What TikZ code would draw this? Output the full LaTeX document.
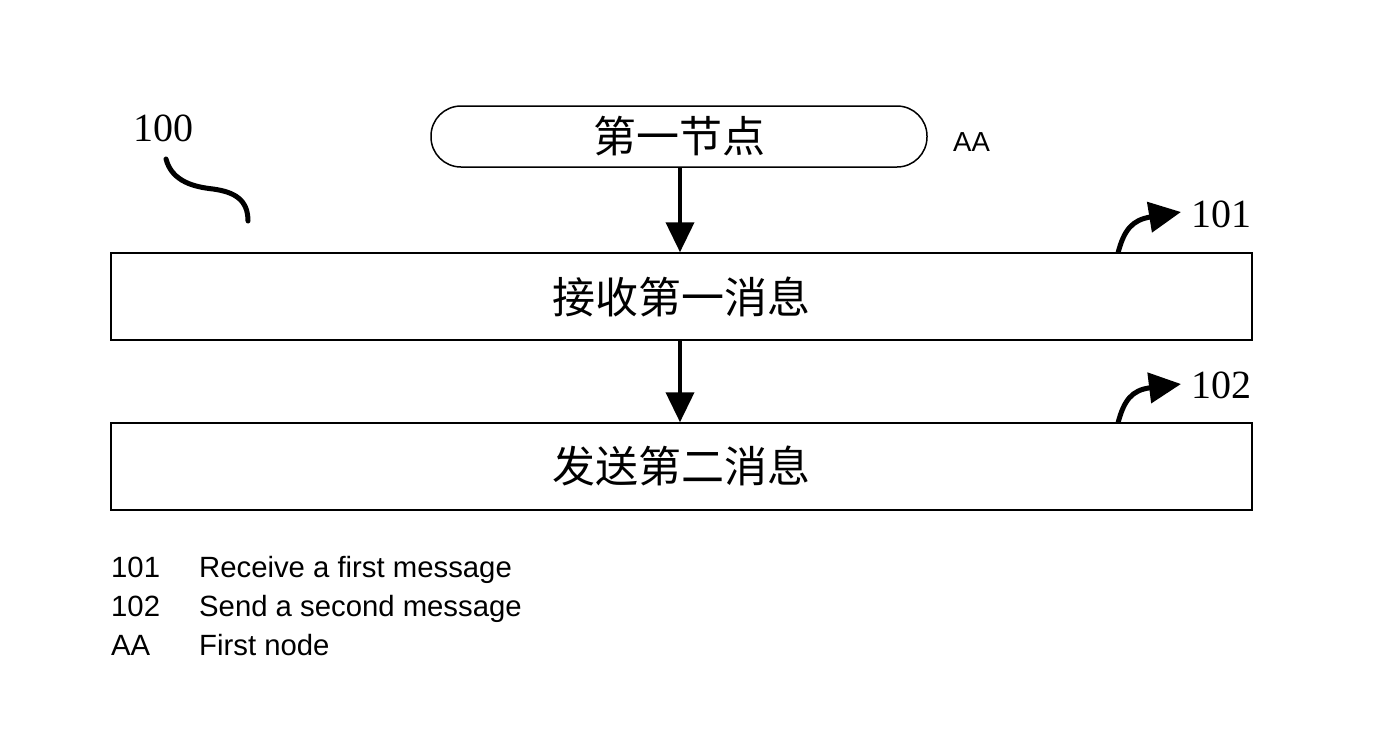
\documentclass[tikz,border=0pt]{standalone}
\usepackage{fontspec}
\setmainfont{Liberation Serif}
\setsansfont{Liberation Sans}
\newfontfamily\cjk{Noto Sans CJK SC}
\usetikzlibrary{arrows.meta}
\begin{document}
\begin{tikzpicture}[x=1pt,y=-1pt,
  box/.style={draw,line width=1.5pt,minimum width=1141pt,minimum height=87pt,inner sep=0pt,font=\cjk\fontsize{43}{46}\selectfont},
  pill/.style={draw,line width=1.5pt,rounded corners=30pt,minimum width=496pt,minimum height=61pt,inner sep=0pt,font=\cjk\fontsize{43}{46}\selectfont},
  flow/.style={line width=4pt,-{Triangle[length=30pt,width=28pt]}},
  refarrow/.style={line width=5pt,-{Triangle[length=32pt,width=30pt]}},
  refnum/.style={font=\fontsize{40}{44}\selectfont,inner sep=0pt},
  legend/.style={font=\sffamily\fontsize{29.3}{32}\selectfont,anchor=base west,inner sep=0pt}]
\useasboundingbox (0,0) rectangle (1377,732);
\node[pill] (aa) at (679,136.5) {第一节点};
\node[font=\sffamily\fontsize{27.5}{30}\selectfont,anchor=west,inner sep=0pt] (aal) at (953,142) {AA};
\node[box] (b1) at (681.5,296.5) {接收第一消息};
\node[box] (b2) at (681.5,466.5) {发送第二消息};
\draw[flow] (aa.south -| 680,0) -- (b1.north -| 680,0);
\draw[flow] (b1.south -| 680,0) -- (b2.north -| 680,0);
\node[refnum] (n100) at (163,128) {100};
\draw[line width=5pt,line cap=round] (166,159) .. controls (172,182) and (195,187) .. (213,189) .. controls (235,192) and (248,200) .. (248,221);
\coordinate (s1) at (1118,253);
\coordinate (t1) at (1181,212);
\draw[refarrow] (s1) .. controls (1124,230) and (1132,220) .. (t1);
\node[refnum,anchor=west] (n101) at (1191,214) {101};
\coordinate (s2) at (1118,423);
\coordinate (t2) at (1181,384);
\draw[refarrow] (s2) .. controls (1124,400) and (1132,390) .. (t2);
\node[refnum,anchor=west] (n102) at (1191,385) {102};
\node[legend] (l1a) at (111,577) {101};
\node[legend] (l1b) at (199,577) {Receive a first message};
\node[legend] (l2a) at (111,616) {102};
\node[legend] (l2b) at (199,616) {Send a second message};
\node[legend] (l3a) at (111,655) {AA};
\node[legend] (l3b) at (199,655) {First node};
\end{tikzpicture}
\end{document}
